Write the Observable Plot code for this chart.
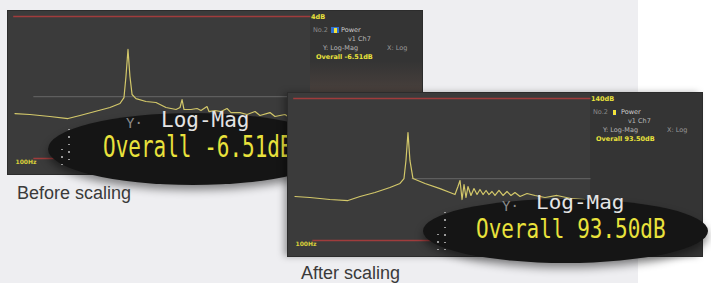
<!DOCTYPE html>
<html><head><meta charset="utf-8">
<script src="https://cdn.jsdelivr.net/npm/d3@7"></script>
<script src="https://cdn.jsdelivr.net/npm/@observablehq/plot@0.6"></script>
<style>
html,body{margin:0;padding:0;background:#fff;}
#root{position:relative;width:711px;height:283px;overflow:hidden;background:linear-gradient(to right,#eeeef1 0,#eeeef1 638px,#ffffff 638px);font-family:"Liberation Sans",Arial,sans-serif;}
.panel{position:absolute;width:414px;height:163px;background:#3b3b3b;outline:1px solid #2c2c2c;}
.panel svg{position:absolute;left:0;top:0;}
.info{position:absolute;left:302px;top:0;width:112px;height:163px;background:#343434;}
.it{position:absolute;font-family:"DejaVu Sans",sans-serif;font-size:6.5px;line-height:7px;white-space:pre;color:#b8b8b8;}
.ell{position:absolute;border-radius:50%;background:#151515;}
.big{position:absolute;font-family:"DejaVu Sans Mono",monospace;font-size:21px;line-height:21px;white-space:pre;transform-origin:0 17.8px;}
.dots{position:absolute;width:2px;background:repeating-linear-gradient(to bottom,#9a9a9a 0,#9a9a9a 1.5px,transparent 1.5px,transparent 7.5px);}
.cap{position:absolute;font-size:18px;line-height:18px;color:#3a3a3a;white-space:pre;}
</style>
</head><body>
<div id="root"></div>
<script>
// ---- data ----
// Before scaling: frequency (Hz, log axis) and level (dB)
const freqBefore = [100,126,172,228,275,347,438,512,545,562,580,598,618,657,767,897,1048,1225,1303,1345,1387,1545,1698,1806,1983,2045,2245,2465,2707,2880,3314,3696,4188,4519,5283,5710,6668,7328,9100];
const levelBefore = [-91.7,-92.6,-94.6,-96.6,-93.6,-89.7,-85.7,-81.8,-75.9,-55.2,-28.5,-55.2,-72.9,-76.9,-79.8,-80.8,-85.7,-87.7,-85.7,-77.9,-87.7,-87.7,-86.7,-88.7,-84.8,-89.7,-88.7,-89.7,-86.7,-90.7,-90.7,-92.6,-89.7,-93.6,-90.7,-94.6,-92.6,-96.6,-97.6];
// After scaling
const freqAfter = [100,126,172,228,275,347,438,512,545,562,580,598,627,756,955,1115,1205,1262,1303,1345,1387,1430,1475,1545,1619,1698,1778,1864,1954,2045,2143,2245,2390,2543,2707,2880,3064,3314,3696,4188,4889,5890,7328,9100];
const levelAfter = [43.4,42.4,40.4,39.4,43.4,47.3,52.2,56.2,61.1,78.9,106.5,78.9,61.1,56.2,51.2,47.3,45.3,53.2,59.1,40.4,55.2,42.4,53.2,44.4,51.2,45.3,50.3,45.3,49.3,45.3,48.3,44.4,49.3,44.4,48.3,44.4,47.3,43.4,46.3,44.4,42.4,44.4,41.4,40.4];

// axis extents (dB) : [top, bottom, grid]
const levelsBefore = [4, -136, -75];
const levelsAfter = [140, 0, 61];
const freqDomain = [100, 10000];
// start frequencies of the top rule, bottom rule and grey grid line
const ruleStartBefore = [98, 134, 134];
const ruleStartAfter = [98, 132, 618];

// texts
const captions = ["Before scaling", "After scaling"];
const topLabels = ["4dB", "140dB"];
const overallTexts = ["Overall -6.51dB", "Overall 93.50dB"];
const infoTexts = ["No.2", "Power", "v1 Ch7", "Y: Log-Mag", "X: Log"];
const bottomLabel = "100Hz";
const modeTexts = ["Y·", "Log-Mag"];

const RED = "#a03c3c", TRACE = "#d3c86a", YEL = "#e9e23c";

function spectrum(freq, level, levels, starts) {
  const data = freq.map((f, i) => ({f, db: level[i]}));
  const [top, bottom, grid] = levels;
  const rules = [
    {y: top, x1: starts[0], color: RED},
    {y: grid, x1: starts[2], color: "#5e5e5e"},
    {y: bottom, x1: starts[1], color: RED}
  ];
  return Plot.plot({
    width: 414, height: 163, margin: 0,
    x: {type: "log", domain: freqDomain, range: [6.5, 302.5], axis: null},
    y: {domain: [bottom, top], range: [147, 5], axis: null},
    style: {background: "transparent", overflow: "visible", fontFamily: "DejaVu Sans"},
    marks: [
      Plot.ruleY(rules, {y: "y", x1: "x1", x2: () => freqDomain[1], stroke: d => d.color, strokeWidth: 1.3}),
      Plot.line(data, {x: "f", y: "db", stroke: TRACE, strokeWidth: 1.2, strokeLinejoin: "round"}),
      Plot.text([bottom], {x: () => freqDomain[0], y: d => d, text: () => bottomLabel, textAnchor: "start", dy: 4, dx: 0.5, fontSize: 6, fontWeight: "bold", fill: "#d9cf3a"})
    ]
  });
}

function el(parent, cls, style, text) {
  const d = document.createElement("div");
  if (cls) d.className = cls;
  Object.assign(d.style, style);
  if (text != null) d.textContent = text;
  parent.appendChild(d);
  return d;
}

function makePanel(root, left, top, freq, level, levels, starts, idx) {
  const p = el(root, "panel", {left: left + "px", top: top + "px"});
  if (idx === 1) p.style.boxShadow = "-4px 0 7px rgba(0,0,0,0.35)";
  const info = el(p, "info", {});
  if (idx === 0) info.style.background = "linear-gradient(to bottom,#343434 0,#343434 50px,#4a413d 83px)";
  p.appendChild(spectrum(freq, level, levels, starts));
  el(p, "it", {left: "303px", top: "3px", color: YEL, fontWeight: "bold"}, topLabels[idx]);
  el(p, "it", {left: "305px", top: "16px", color: "#8a8a8a"}, infoTexts[0]);
  if (idx === 0) {
    el(p, "", {position: "absolute", left: "323px", top: "16px", width: "8px", height: "6px", background: "#2f6fd0"});
    el(p, "", {position: "absolute", left: "325.5px", top: "16.5px", width: "3px", height: "5px", background: "#f2e23a"});
  } else {
    el(p, "", {position: "absolute", left: "324px", top: "16.5px", width: "5px", height: "6px", background: "#2a3550"});
    el(p, "", {position: "absolute", left: "325px", top: "17px", width: "3px", height: "5px", background: "#f2e23a"});
  }
  el(p, "it", {left: "333px", top: "16px", color: "#d0d0d0"}, infoTexts[1]);
  el(p, "it", {left: "340px", top: "25px"}, infoTexts[2]);
  el(p, "it", {left: "315px", top: "34px"}, infoTexts[3]);
  el(p, "it", {left: "379px", top: "34px", color: "#9a9a9a"}, infoTexts[4]);
  el(p, "it", {left: "308px", top: "43px", color: YEL, fontWeight: "bold"}, overallTexts[idx]);
  return p;
}

function makeOverlay(root, e, idx) {
  el(root, "ell", {left: e.x + "px", top: e.y + "px", width: e.w + "px", height: e.h + "px", boxShadow: "0 5px 9px rgba(0,0,0,0.45)"});
  el(root, "dots", {left: e.dx + "px", top: e.dy + "px", height: e.dh + "px"});
  el(root, "dots", {left: (e.dx - 7) + "px", top: (e.dy + e.dh - 16) + "px", height: "16px"});
  el(root, "big", {left: e.yx + "px", top: (e.yb - 17.8) + "px", fontSize: "14px", color: "#8c8c8c"}, modeTexts[0]);
  el(root, "big", {left: e.lx + "px", top: (e.lb - 17.8) + "px", color: "#e4e4e4", transform: "scaleY(" + e.ls + ")"}, modeTexts[1]);
  el(root, "big", {left: e.ox + "px", top: (e.ob - 17.8) + "px", color: YEL, transform: "scaleY(" + e.os + ")"}, overallTexts[idx]);
}

const root = document.getElementById("root");
makePanel(root, 8, 11, freqBefore, levelBefore, levelsBefore, ruleStartBefore, 0);
makeOverlay(root, {x: 48, y: 113, w: 290, h: 72, dx: 68, dy: 129, dh: 36, yx: 126, yb: 131, lx: 161, lb: 128, ls: 1.05, ox: 103, ob: 158, os: 1.42}, 0);
makePanel(root, 288, 93, freqAfter, levelAfter, levelsAfter, ruleStartAfter, 1);
makeOverlay(root, {x: 423, y: 199, w: 285, h: 64, dx: 444, dy: 212, dh: 38, yx: 502, yb: 214, lx: 536, lb: 210, ls: 0.9, ox: 476, ob: 239, os: 1.3}, 1);

el(root, "cap", {left: "17px", top: "184px"}, captions[0]);
el(root, "cap", {left: "301px", top: "264px"}, captions[1]);
</script>
</body></html>
